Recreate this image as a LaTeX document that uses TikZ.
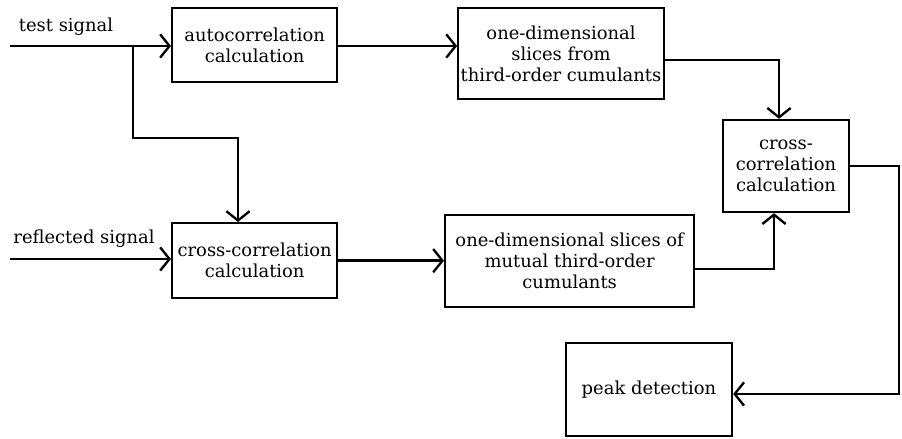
\documentclass[tikz,border=0pt]{standalone}
\usepackage{fontspec}
\setmainfont{DejaVu Serif}
\usetikzlibrary{arrows.meta,positioning,calc}

\begin{document}
\begin{tikzpicture}[
    box/.style={draw, line width=2pt, align=center, font=\fontsize{15.3}{18}\selectfont, text=black, inner sep=2pt},
    lbl/.style={font=\fontsize{15.3}{18}\selectfont, text=black},
    arr/.style={-{Straight Barb[length=0.28cm, width=0.7cm]}, line width=2pt, black},
]
\useasboundingbox (0,0) rectangle (27.06,-13.14);

\node[box, minimum width=4.95cm, minimum height=2.22cm] (auto) at (7.64,-1.35) {autocorrelation\\calculation};
\node[box, minimum width=6.12cm, minimum height=2.73cm] (slicesA) at (16.83,-1.61) {one-dimensional\\slices from\\third-order cumulants};
\node[box, minimum width=3.78cm, minimum height=2.76cm] (xcorrB) at (23.58,-4.98) {cross-\\correlation\\calculation};
\node[box, minimum width=4.95cm, minimum height=2.25cm] (xcorrA) at (7.64,-7.82) {cross-correlation\\calculation};
\node[box, minimum width=7.47cm, minimum height=2.76cm] (slicesB) at (17.09,-7.83) {one-dimensional slices of\\mutual third-order\\cumulants};
\node[box, minimum width=4.98cm, minimum height=2.79cm] (peak) at (19.47,-11.69) {peak detection};

\node[lbl] (ltest) at (1.98,-0.81) {test signal};
\node[lbl] (lrefl) at (2.52,-7.17) {reflected signal};

\coordinate (tin) at (0.3,-1.38);
\coordinate (rin) at (0.3,-7.77);
\coordinate (split) at (3.99,-1.38);
\coordinate (drop) at (7.14,-4.14);
\coordinate (edge) at (26.97,-4.89);

\draw[arr] (tin) -- (tin -| auto.west);
\draw[arr] (split) |- (drop) -- (drop |- xcorrA.north);
\draw[arr] (rin) -- (rin -| xcorrA.west);
\draw[arr] (auto.east |- tin) -- (tin -| slicesA.west);
\draw[arr] (xcorrA.east) -- (xcorrA.east -| slicesB.west);
\draw[arr] ([yshift=-0.19cm]slicesA.east) -| ([xshift=-0.21cm]xcorrB.north);
\draw[arr] ([yshift=-0.24cm]slicesB.east) -| ([xshift=-0.36cm]xcorrB.south);
\draw[arr] (xcorrB.east) -- (xcorrB.east -| edge) |- ([yshift=-0.13cm]peak.east);
\end{tikzpicture}
\end{document}
